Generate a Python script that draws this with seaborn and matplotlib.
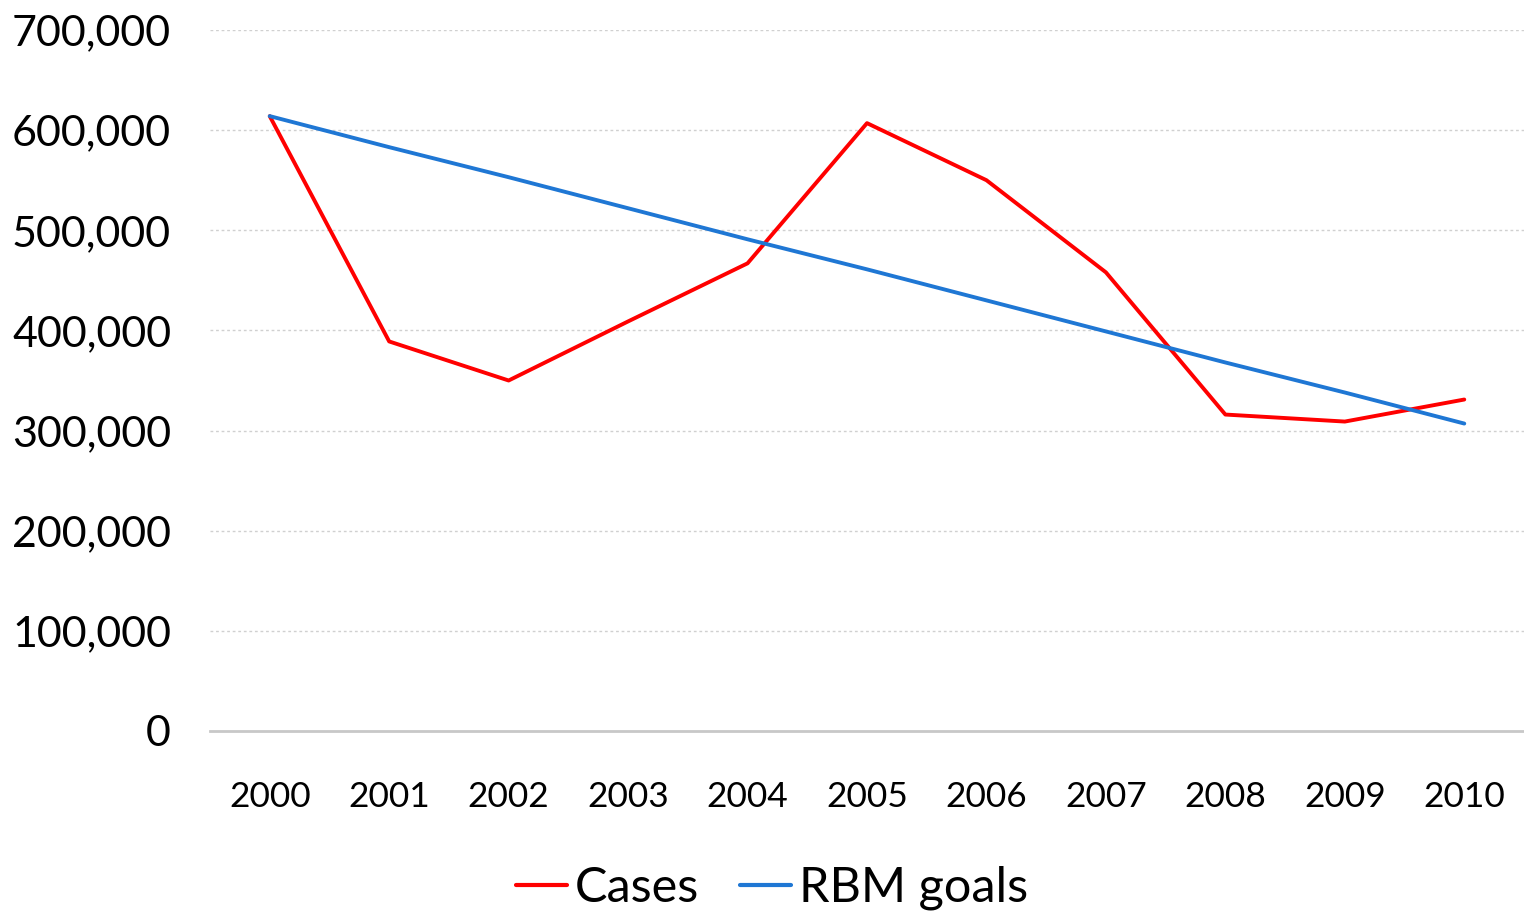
import numpy as np
import pandas as pd
import seaborn as sns
from matplotlib import pyplot as plt
from matplotlib.ticker import FuncFormatter

# Chart data
years = ["2000", "2001", "2002", "2003", "2004", "2005", "2006", "2007", "2008", "2009", "2010"]
cases = [614000, 389000, 350000, 409000, 467000, 607000, 550000, 458000, 316000, 309000, 331000]
rbm_goals = [614000, 583000, 553000, 522000, 491000, 461000, 430000, 399000, 368000, 338000, 307000]
y_ticks = [0, 100000, 200000, 300000, 400000, 500000, 600000, 700000]

df = pd.DataFrame({
    "year": years * 2,
    "value": cases + rbm_goals,
    "series": ["Cases"] * len(years) + ["RBM goals"] * len(years),
})
df["pos"] = list(range(len(years))) * 2

sns.set_theme(style="white")
plt.rcParams["font.family"] = ["Lato", "DejaVu Sans"]
plt.rcParams["text.color"] = "black"
plt.rcParams["xtick.color"] = "black"
plt.rcParams["ytick.color"] = "black"

fig = plt.figure(figsize=(15.24, 9.17), dpi=100)
ax = fig.add_axes([210 / 1524, 1 - 731 / 917, 1314 / 1524, 701 / 917])

sns.lineplot(data=df, x="pos", y="value", hue="series",
             palette={"Cases": "#ff0000", "RBM goals": "#1f77d4"},
             linewidth=2.8, ax=ax)

ax.set_xlim(-0.5, len(years) - 0.5)
ax.set_ylim(0, 700000)
ax.set_yticks(y_ticks)
ax.yaxis.set_major_formatter(FuncFormatter(lambda v, p: f"{int(v):,}"))
ax.set_xticks(range(len(years)))
ax.set_xticklabels(years)
ax.tick_params(axis="y", labelsize=31, pad=28, length=0, labelcolor="black")
ax.tick_params(axis="x", labelsize=25.5, pad=36, length=0, labelcolor="black")
ax.set_xlabel("")
ax.set_ylabel("")

for t in y_ticks[1:]:
    ax.axhline(t, color="#d0d0d0", linestyle=(0, (2, 2)), linewidth=1, zorder=0)

for s in ["top", "right", "left"]:
    ax.spines[s].set_visible(False)
ax.spines["bottom"].set_color("#c8c8c8")
ax.spines["bottom"].set_linewidth(2)

handles, labels = ax.get_legend_handles_labels()
leg = ax.legend(handles, labels, loc="center", bbox_to_anchor=(772 / 1524, 1 - 888 / 917),
                bbox_transform=fig.transFigure, ncol=2, frameon=False, fontsize=35,
                handlelength=1.05, handletextpad=0.15, columnspacing=0.85)
for line in leg.get_lines():
    line.set_linewidth(3)

fig.savefig("out.png", dpi=100)
